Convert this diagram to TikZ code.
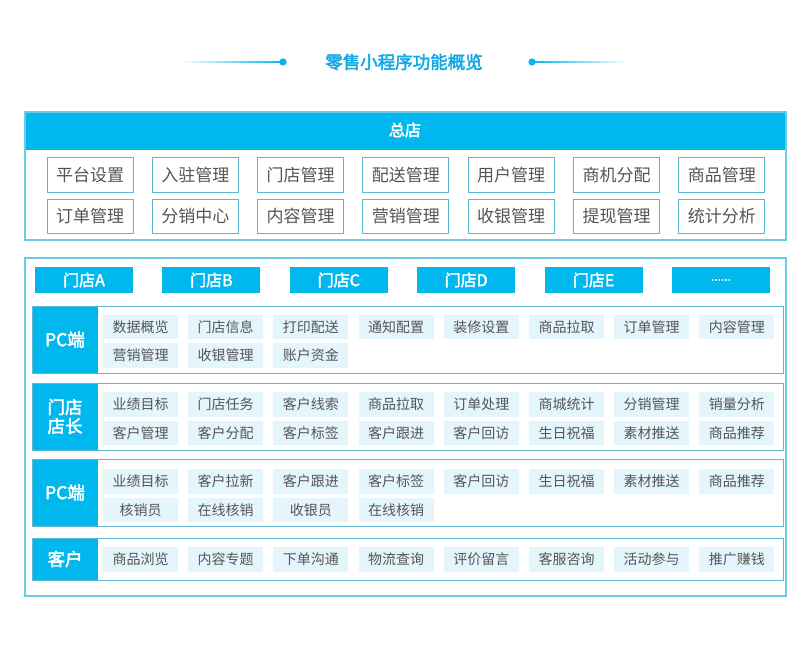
\documentclass[tikz,border=0pt]{standalone}
\usepackage{fontspec}
\setmainfont{Noto Sans CJK SC}
\newfontfamily\medfont{Noto Sans CJK SC}[FakeBold=2.5]
\definecolor{cy}{HTML}{00B7EE}
\definecolor{titlec}{HTML}{15A8E6}
\definecolor{frame}{HTML}{6ACDE6}
\definecolor{boxb}{HTML}{58B9D6}
\definecolor{itemf}{HTML}{E4F5FC}
\definecolor{txt}{HTML}{555555}
\tikzset{
  topitem/.style={draw=boxb, line width=1pt, fill=white, minimum width=86pt, minimum height=34pt, inner sep=0pt, text=txt, font=\fontsize{17}{17}\selectfont},
  tab/.style={fill=cy, minimum width=98pt, minimum height=26pt, inner sep=0pt, text=white, font=\fontsize{16}{16}\selectfont\medfont},
  subitem/.style={fill=itemf, minimum width=75pt, minimum height=24.5pt, inner sep=0pt, text=txt, font=\fontsize{14}{14}\selectfont},
  secframe/.style={draw=frame!90!black, line width=1pt},
  outframe/.style={draw=frame, line width=1.3pt},
  seclabel/.style={fill=cy, text=white, inner sep=0pt, font=\fontsize{17.5}{19}\selectfont\medfont, align=center},
}
\newcommand{\mysection}[4]{%
  \fill[cy] (32,#2) rectangle (98,#3);
  \draw[secframe] (32,#2) rectangle (783,#3);
  \node[seclabel] (lab#1) at (65,{(#2+#3)/2}) {#4};
}
\newcommand{\sixdots}{{\fontsize{12}{12}\selectfont ......}}
\begin{document}
\begin{tikzpicture}[x=1pt,y=-1pt]
\useasboundingbox (0,0) rectangle (810,655);
\fill[white] (0,0) rectangle (810,655);
% title
\shade[left color=white, right color=cy] (180,61.2) rectangle (283,62.8);
\fill[cy] (283,62) circle (3.6);
\shade[left color=cy, right color=white] (532,61.2) rectangle (630,62.8);
\fill[cy] (532,62) circle (3.6);
\node[text=titlec, font=\fontsize{17.5}{17.5}\selectfont\medfont] (title) at (404,62) {零售小程序功能概览};
% head office
\fill[cy] (25,112) rectangle (786,150);
\draw[outframe] (25,112) rectangle (786,240);
\node[text=white, font=\fontsize{16}{16}\selectfont\medfont] (hq) at (405,130) {总店};
\foreach \t [count=\i from 0] in {平台设置,入驻管理,门店管理,配送管理,用户管理,商机分配,商品管理}
  \node[topitem] (ta\i) at ({90+105.3*\i},175) {\t};
\foreach \t [count=\i from 0] in {订单管理,分销中心,内容管理,营销管理,收银管理,提现管理,统计分析}
  \node[topitem] (tb\i) at ({90+105.3*\i},216) {\t};
% stores
\draw[outframe] (25,258) rectangle (786,596);
\foreach \t [count=\i from 0] in {门店A,门店B,门店C,门店D,门店E,\sixdots}
  \node[tab] (st\i) at ({84+127.4*\i},280) {\t};
% sections
\mysection{1}{306}{373}{PC端}
\foreach \t [count=\i from 0] in {数据概览,门店信息,打印配送,通知配置,装修设置,商品拉取,订单管理,内容管理}
  \node[subitem] (sa\i) at ({140.5+85.2*\i},327) {\t};
\foreach \t [count=\i from 0] in {营销管理,收银管理,账户资金}
  \node[subitem] (sb\i) at ({140.5+85.2*\i},355.5) {\t};
\mysection{2}{383}{450}{门店\\店长}
\foreach \t [count=\i from 0] in {业绩目标,门店任务,客户线索,商品拉取,订单处理,商城统计,分销管理,销量分析}
  \node[subitem] (sc\i) at ({140.5+85.2*\i},404.5) {\t};
\foreach \t [count=\i from 0] in {客户管理,客户分配,客户标签,客户跟进,客户回访,生日祝福,素材推送,商品推荐}
  \node[subitem] (sd\i) at ({140.5+85.2*\i},433) {\t};
\mysection{3}{459}{526}{PC端}
\foreach \t [count=\i from 0] in {业绩目标,客户拉新,客户跟进,客户标签,客户回访,生日祝福,素材推送,商品推荐}
  \node[subitem] (se\i) at ({140.5+85.2*\i},481.5) {\t};
\foreach \t [count=\i from 0] in {核销员,在线核销,收银员,在线核销}
  \node[subitem] (sf\i) at ({140.5+85.2*\i},510) {\t};
\mysection{4}{538}{580}{客户}
\foreach \t [count=\i from 0] in {商品浏览,内容专题,下单沟通,物流查询,评价留言,客服咨询,活动参与,推广赚钱}
  \node[subitem] (sg\i) at ({140.5+85.2*\i},559.5) {\t};
\end{tikzpicture}
\end{document}
